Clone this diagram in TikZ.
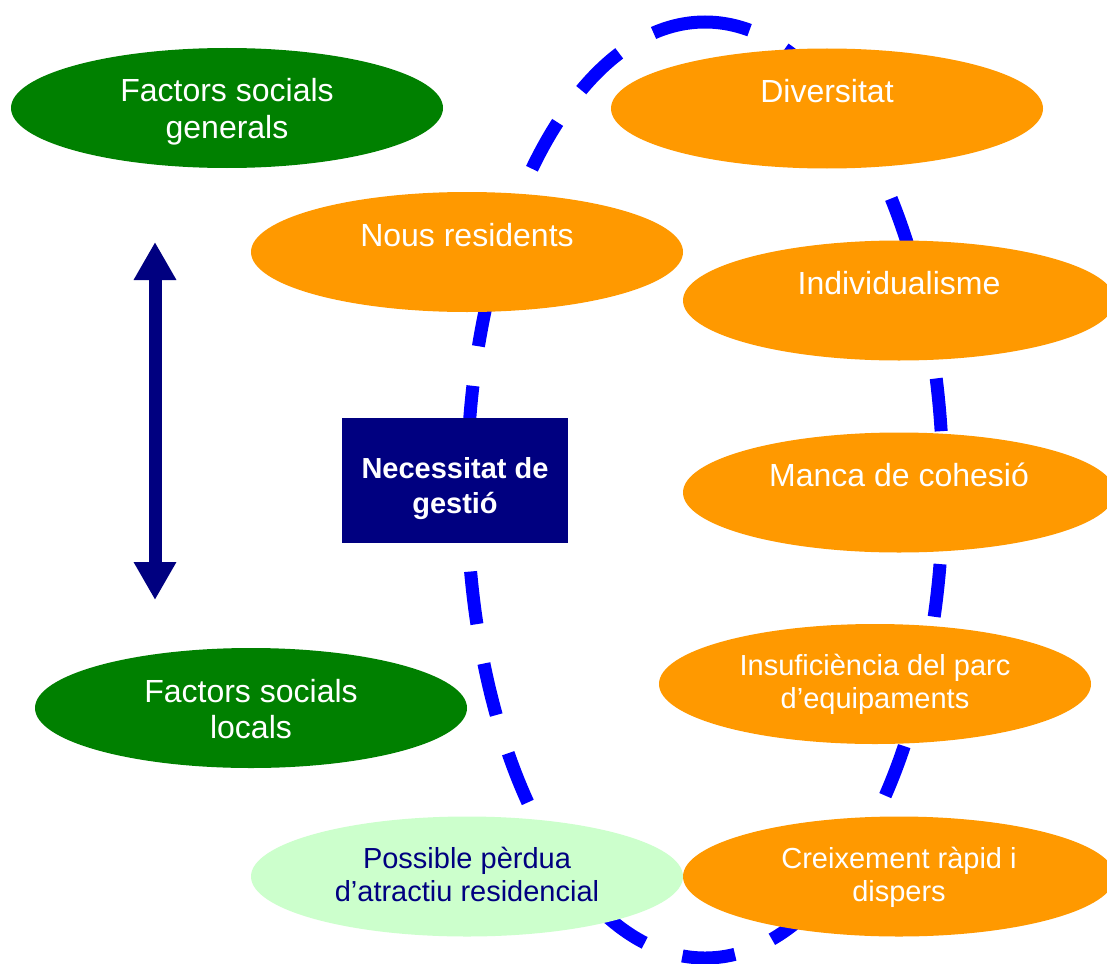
\documentclass[tikz,border=0pt]{standalone}
\usepackage{fontspec}
\setmainfont{Liberation Sans}
\usetikzlibrary{shapes.geometric,arrows.meta}
\definecolor{dkgreen}{RGB}{0,128,0}
\definecolor{orng}{RGB}{255,153,0}
\definecolor{ltgreen}{RGB}{204,255,204}
\definecolor{navyb}{RGB}{0,0,128}
\definecolor{loopblue}{RGB}{0,0,255}
\begin{document}
\begin{tikzpicture}[x=1pt,y=-1pt,
  oval/.style={ellipse, minimum width=432pt, minimum height=120pt, inner sep=0pt, align=center, text=white},
  bigtxt/.style={font=\fontsize{32pt}{36pt}\selectfont, text height=24pt, text depth=36pt},
  bigtwo/.style={font=\fontsize{32pt}{36pt}\selectfont, text height=66pt, text depth=6pt},
  smalltwo/.style={font=\fontsize{29pt}{33pt}\selectfont, text height=55pt, text depth=6pt},
  greenoval/.style={oval, fill=dkgreen, bigtwo},
  orangeoval/.style={oval, fill=orng},
  loopline/.style={draw=loopblue, line width=13pt, dash pattern=on 53pt off 40pt},
  dblarrow/.style={draw=navyb, line width=13pt, {Triangle[width=40pt,length=38pt]}-{Triangle[width=40pt,length=38pt]}},
  gestbox/.style={rectangle, fill=navyb, minimum width=226pt, minimum height=125pt, inner sep=0pt, align=center, text=white, font=\bfseries\fontsize{29pt}{35pt}\selectfont, text height=70pt, text depth=5pt}
]
\useasboundingbox (0,0) rectangle (1107,963);
\fill[white] (0,0) rectangle (1107,963);

% dashed loop behind everything
\coordinate (looptop) at (705,22);
\draw[loopline] (looptop) arc[start angle=90, end angle=450, x radius=238pt, y radius=468pt];

% double arrow
\coordinate (atop) at (155,242);
\coordinate (abot) at (155,600);
\draw[dblarrow] (atop) -- (abot);

% nodes
\node[greenoval] (fsg) at (227,108) {Factors socials\\generals};
\node[greenoval] (fsl) at (251,708) {Factors socials\\locals};
\node[orangeoval, bigtxt] (div) at (827,108.5) {Diversitat};
\node[orangeoval, bigtxt] (nous) at (467,252) {Nous residents};
\node[orangeoval, bigtxt] (ind) at (899,300.5) {Individualisme};
\node[orangeoval, bigtxt] (manca) at (899,492.5) {Manca de cohesió};
\node[orangeoval, smalltwo] (insuf) at (875,684) {Insuficiència del parc\\d’equipaments};
\node[orangeoval, smalltwo] (creix) at (899,876.5) {Creixement ràpid i\\dispers};
\node[oval, fill=ltgreen, smalltwo, text=navyb] (poss) at (467,876.5) {Possible pèrdua\\d’atractiu residencial};
\node[gestbox] (gest) at (455,480.5) {Necessitat de\\gestió};
\end{tikzpicture}
\end{document}
